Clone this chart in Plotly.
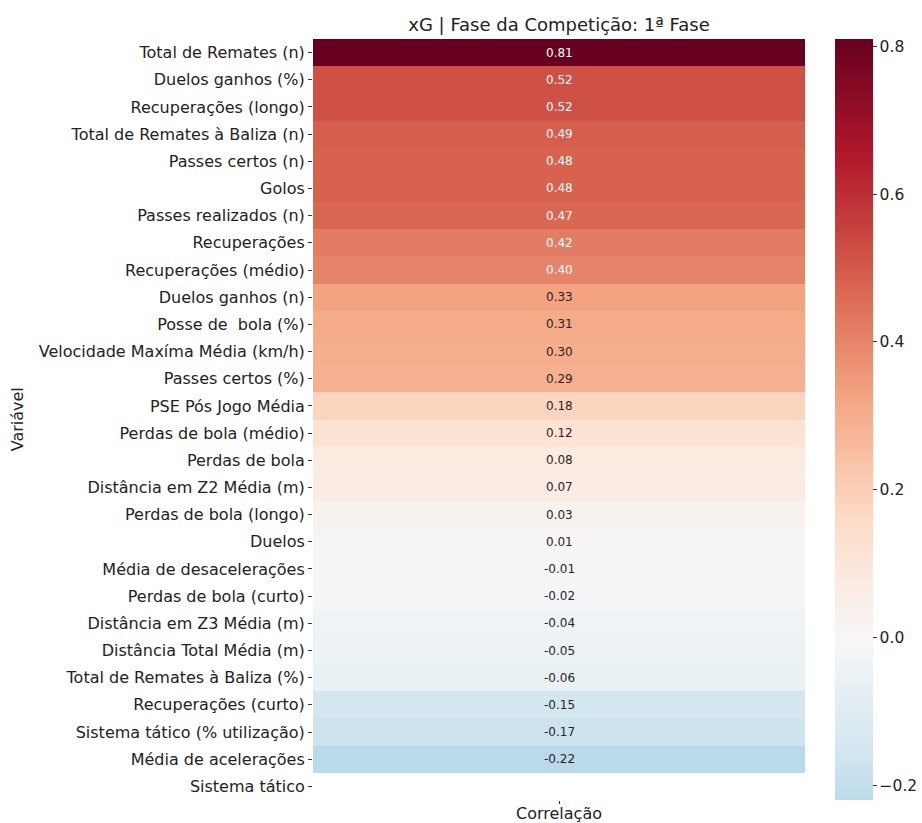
import plotly.graph_objects as go

title_text = "xG | Fase da Competição: 1ª Fase"
variables = [
    "Total de Remates (n)", "Duelos ganhos (%)", "Recuperações (longo)",
    "Total de Remates à Baliza (n)", "Passes certos (n)", "Golos",
    "Passes realizados (n)", "Recuperações", "Recuperações (médio)",
    "Duelos ganhos (n)", "Posse de\u00a0 bola (%)", "Velocidade Maxíma Média (km/h)",
    "Passes certos (%)", "PSE Pós Jogo Média", "Perdas de bola (médio)",
    "Perdas de bola", "Distância em Z2 Média (m)", "Perdas de bola (longo)",
    "Duelos", "Média de desacelerações", "Perdas de bola (curto)",
    "Distância em Z3 Média (m)", "Distância Total Média (m)",
    "Total de Remates à Baliza (%)", "Recuperações (curto)",
    "Sistema tático (% utilização)", "Média de acelerações", "Sistema tático",
]
correlation = [
    0.81, 0.52, 0.52, 0.49, 0.48, 0.48, 0.47, 0.42, 0.40, 0.33, 0.31, 0.30,
    0.29, 0.18, 0.12, 0.08, 0.07, 0.03, 0.01, -0.01, -0.02, -0.04, -0.05,
    -0.06, -0.15, -0.17, -0.22, None,
]
cbar_ticks = [-0.2, 0.0, 0.2, 0.4, 0.6, 0.8]
cbar_ticktext = ["\u22120.2", "0.0", "0.2", "0.4", "0.6", "0.8"]

# matplotlib RdBu_r anchor colours
rdbu_r = ["#053061", "#2166ac", "#4393c3", "#92c5de", "#d1e5f0", "#f7f7f7",
          "#fddbc7", "#f4a582", "#d6604d", "#b2182b", "#67001f"]


def hex2rgb(h):
    return tuple(int(h[i:i + 2], 16) for i in (1, 3, 5))


def cmap(t):
    t = min(max(t, 0.0), 1.0)
    n = len(rdbu_r) - 1
    i = min(int(t * n), n - 1)
    f = t * n - i
    a, b = hex2rgb(rdbu_r[i]), hex2rgb(rdbu_r[i + 1])
    return tuple(a[k] + (b[k] - a[k]) * f for k in range(3))


vals = [v for v in correlation if v is not None]
vmax = max(abs(v) for v in vals)
zmin, zmax = min(vals), max(vals)


def norm(v):
    return (v + vmax) / (2 * vmax)


colorscale = []
N = 60
for k in range(N + 1):
    p = k / N
    v = zmin + p * (zmax - zmin)
    r, g, b = cmap(norm(v))
    colorscale.append([p, f"rgb({r:.0f},{g:.0f},{b:.0f})"])


def lum(rgb):
    out = []
    for c in rgb:
        c = c / 255
        out.append(c / 12.92 if c <= 0.03928 else ((c + 0.055) / 1.055) ** 2.4)
    return 0.2126 * out[0] + 0.7152 * out[1] + 0.0722 * out[2]


FONT = "DejaVu Sans"
fig = go.Figure()
fig.add_trace(go.Heatmap(
    z=[[v] for v in correlation],
    x=[0],
    y=variables,
    zmin=zmin, zmax=zmax,
    colorscale=colorscale,
    xgap=0, ygap=0,
    hoverongaps=False,
    colorbar=dict(
        x=(835 - 313) / 492, xanchor="left", xpad=0,
        y=1, yanchor="top", ypad=0,
        lenmode="pixels", len=761,
        thickness=38, outlinewidth=0,
        tickvals=cbar_ticks, ticktext=cbar_ticktext,
        ticks="outside", ticklen=4, tickwidth=1, tickcolor="#333",
        tickfont=dict(family=FONT, size=15.5, color="#222"),
    ),
))

annotations = []
for name, v in zip(variables, correlation):
    if v is None:
        continue
    col = "#262626" if lum(cmap(norm(v))) > 0.408 else "white"
    annotations.append(dict(
        x=0, y=name, xref="x", yref="y", text=f"{v:.2f}", showarrow=False,
        font=dict(family=FONT, size=12, color=col),
    ))
annotations.append(dict(
    x=0.5, y=0, xref="paper", yref="paper", yanchor="middle", yshift=-13,
    text="Correlação", showarrow=False,
    font=dict(family=FONT, size=16, color="#222"),
))
annotations.append(dict(
    x=-0.6, y=0.5, xref="paper", yref="paper", xanchor="center",
    text="Variável", textangle=-90, showarrow=False,
    font=dict(family=FONT, size=16, color="#222"),
))

fig.update_layout(
    width=922, height=823,
    margin=dict(l=313, r=117, t=39, b=23, autoexpand=False),
    paper_bgcolor="white", plot_bgcolor="white",
    title=dict(text=title_text, x=(0.5 * 492 + 313) / 922, xanchor="center",
               y=1 - 25 / 823, yanchor="middle",
               font=dict(family=FONT, size=18, color="#222")),
    annotations=annotations,
    xaxis=dict(range=[-0.5, 0.5], tickvals=[0], ticktext=[""], ticks="outside",
               ticklen=3, tickcolor="#333", showgrid=False, zeroline=False,
               showline=False, fixedrange=True, automargin=False),
    yaxis=dict(autorange="reversed", type="category", ticks="outside", ticklen=4,
               tickcolor="#333", showgrid=False, zeroline=False, showline=False,
               automargin=False,
               tickfont=dict(family=FONT, size=16, color="#222")),
    showlegend=False,
)

fig.write_html("out.html")
